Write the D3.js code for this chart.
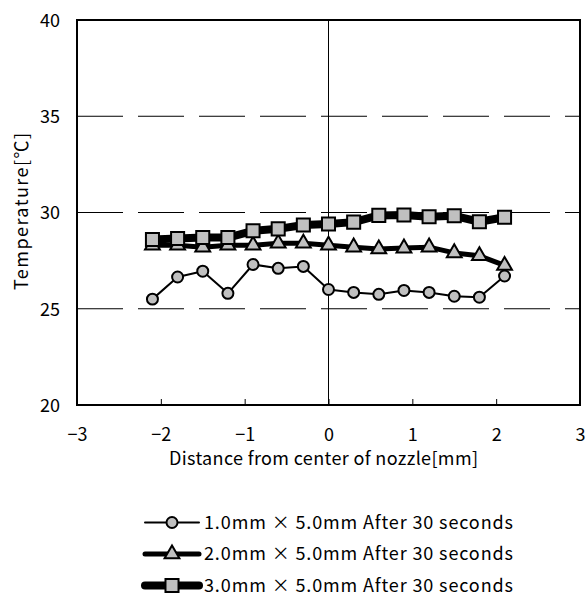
<!DOCTYPE html>
<html><head><meta charset="utf-8">
<script src="https://cdn.jsdelivr.net/npm/d3@7"></script>
<style>body{margin:0;background:#fff}svg text{font-family:"Noto Sans CJK JP","Noto Sans",sans-serif;fill:#000}</style>
</head><body>
<svg id="c" width="586" height="597"></svg>
<script>
const xPositions = [-2.1,-1.8,-1.5,-1.2,-0.9,-0.6,-0.3,0,0.3,0.6,0.9,1.2,1.5,1.8,2.1];
const series1 = [25.5,26.65,26.95,25.8,27.3,27.1,27.2,26.0,25.85,25.75,25.95,25.85,25.65,25.6,26.7];
const series2 = [28.3,28.3,28.2,28.3,28.3,28.4,28.4,28.3,28.2,28.1,28.15,28.2,27.9,27.75,27.25];
const series3 = [28.6,28.65,28.7,28.7,29.05,29.15,29.35,29.4,29.5,29.85,29.87,29.78,29.83,29.52,29.75];
const seriesNames = ["1.0mm × 5.0mm After 30 seconds","2.0mm × 5.0mm After 30 seconds","3.0mm × 5.0mm After 30 seconds"];
const xTicks = [-3,-2,-1,0,1,2,3];
const yTicks = [20,25,30,35,40];

const svg = d3.select("#c");
const L=77,R=580,T=20,B=405;
const x = d3.scaleLinear().domain([-3,3]).range([L,R]);
const y = d3.scaleLinear().domain([20,40]).range([B,T]);

svg.append("g").selectAll("line").data([25,30,35]).join("line")
  .attr("x1",L).attr("x2",R).attr("y1",d=>y(d)).attr("y2",d=>y(d))
  .attr("stroke","#000").attr("stroke-width",1).attr("stroke-dasharray","46,15");
svg.append("line").attr("x1",x(0)).attr("x2",x(0)).attr("y1",T).attr("y2",B)
  .attr("stroke","#000").attr("stroke-width",1);

const xa = d3.axisBottom(x).tickValues(xTicks).tickSize(-6).tickFormat(d=>d<0?"\u2212"+Math.abs(d):d);
const gx = svg.append("g").attr("transform",`translate(0,${B})`).call(xa);
gx.select(".domain").remove();
gx.selectAll("line").attr("stroke","#000").attr("stroke-width",1);
gx.selectAll("text").attr("font-size",18).attr("dy",0).attr("y",36);

const ya = d3.axisLeft(y).tickValues(yTicks).tickSize(0).tickPadding(17);
const gy = svg.append("g").attr("transform",`translate(${L},0)`).call(ya);
gy.select(".domain").remove();
gy.selectAll("text").attr("font-size",18).attr("dy","0.35em");

svg.append("rect").attr("x",L).attr("y",T).attr("width",R-L).attr("height",B-T)
  .attr("fill","none").attr("stroke","#000").attr("stroke-width",2);

const data = [series1,series2,series3];
const widths=[2,5,8];
const syms=[d3.symbolCircle,d3.symbolTriangle,d3.symbolSquare];
const sizes=[95,95,170];
const line = d3.line().x((d,i)=>x(xPositions[i])).y(d=>y(d));

[0,1,2].forEach(k=>{
  const g = svg.append("g");
  g.append("path").datum(data[k]).attr("d",line).attr("fill","none")
   .attr("stroke","#000").attr("stroke-width",widths[k]).attr("stroke-linejoin","round");
  g.selectAll("path.m").data(data[k]).join("path").attr("class","m")
   .attr("transform",(d,i)=>`translate(${x(xPositions[i])},${y(d)})`)
   .attr("d",d3.symbol().type(syms[k]).size(sizes[k]))
   .attr("fill","#c0c0c0").attr("stroke","#000").attr("stroke-width",2);
});

const lg = svg.append("g");
const lsizes=[95,95,170];
seriesNames.forEach((n,k)=>{
  const yy = 522.5 + k*31.5;
  lg.append("line").attr("x1",145).attr("x2",199).attr("y1",yy).attr("y2",yy)
    .attr("stroke","#000").attr("stroke-width",widths[k]).attr("stroke-linecap","round");
  lg.append("path").attr("transform",`translate(172,${yy})`)
    .attr("d",d3.symbol().type(syms[k]).size(lsizes[k]))
    .attr("fill","#c0c0c0").attr("stroke","#000").attr("stroke-width",2);
  lg.append("text").attr("x",204).attr("y",yy).attr("dy","0.36em").attr("font-size",18)
    .attr("textLength",309).attr("lengthAdjust","spacing").text(n);
});

svg.append("text").attr("x",169).attr("y",465).attr("font-size",18)
  .attr("textLength",309).attr("lengthAdjust","spacing")
  .text("Distance from center of nozzle[mm]");
svg.append("text").attr("transform",`translate(28,290) rotate(-90)`)
  .attr("font-size",18).attr("textLength",157).attr("lengthAdjust","spacing").text("Temperature[℃]");
</script>
</body></html>
